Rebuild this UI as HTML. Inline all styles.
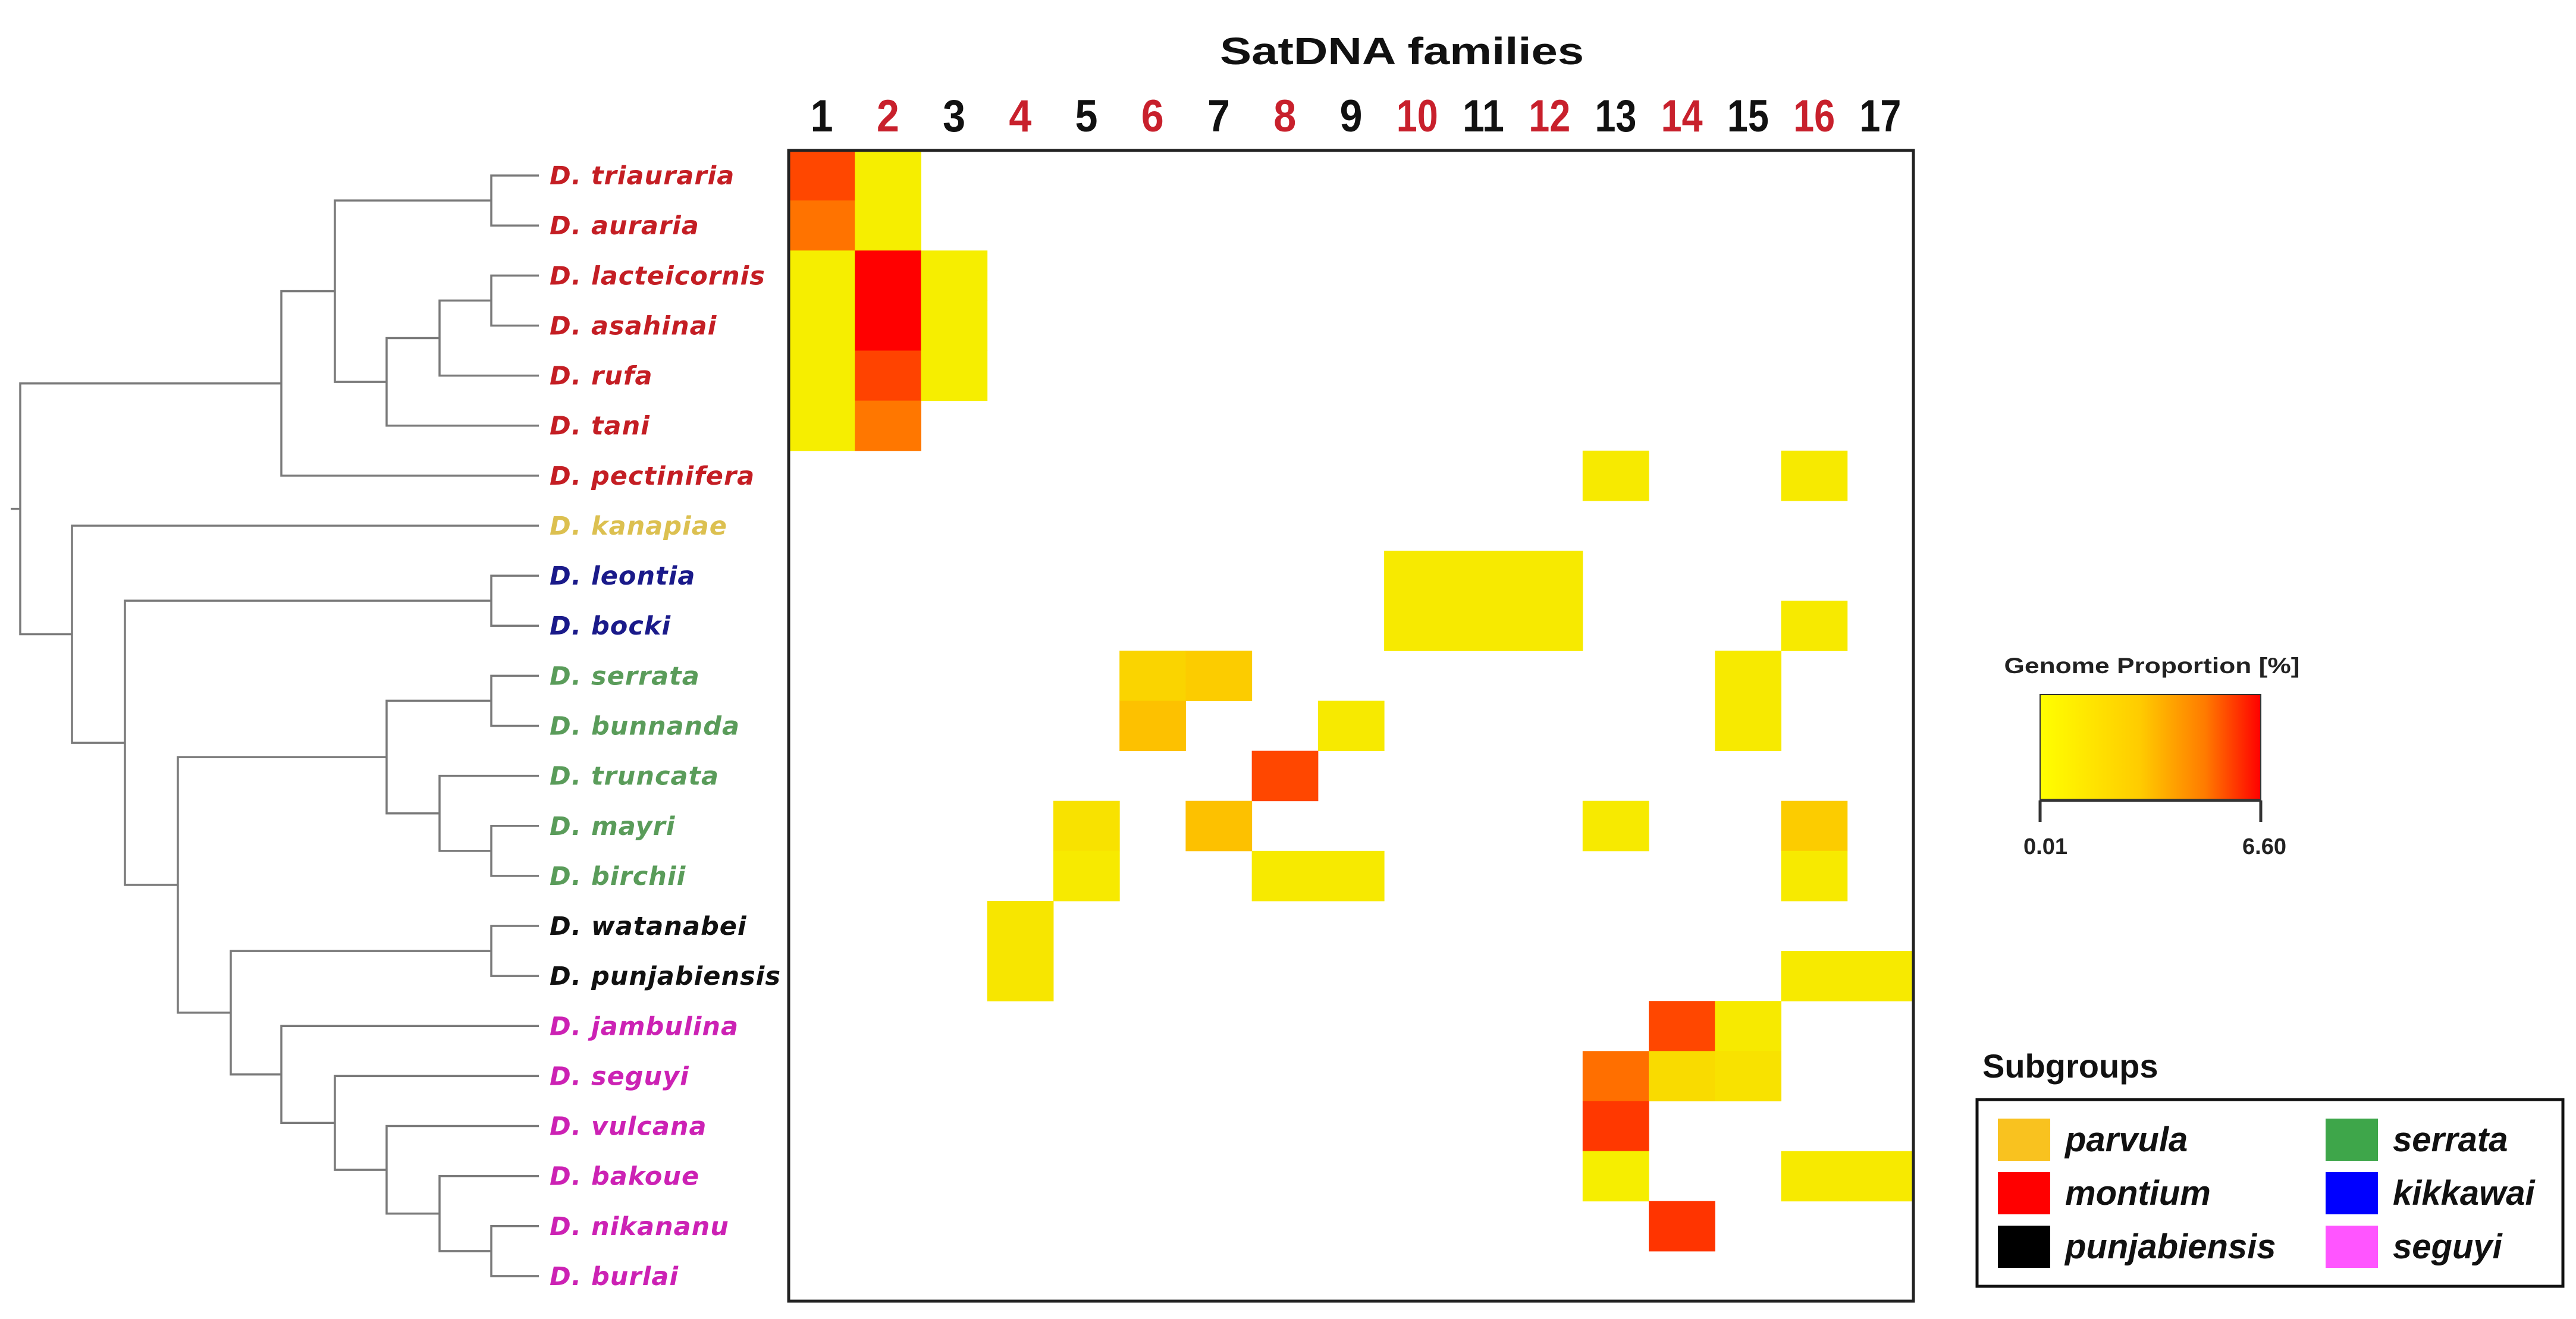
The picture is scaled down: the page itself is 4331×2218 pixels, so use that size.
<!DOCTYPE html>
<html><head><meta charset="utf-8"><style>
html,body{margin:0;padding:0;background:#fff}
svg{display:block}
text{font-family:"Liberation Sans",sans-serif;font-weight:bold}
</style></head><body>
<svg id="chart" width="4331" height="2218" viewBox="0 0 4331 2218" xmlns="http://www.w3.org/2000/svg">
<defs><linearGradient id="grad" x1="0" x2="1" y1="0" y2="0"><stop offset="0" stop-color="#ffff00"/><stop offset="0.45" stop-color="#ffcc00"/><stop offset="0.75" stop-color="#ff7a00"/><stop offset="1" stop-color="#ff0000"/></linearGradient></defs>
<text x="2357" y="108" font-size="64" text-anchor="middle" fill="#111" textLength="612" lengthAdjust="spacingAndGlyphs">SatDNA families</text>
<g id="colnums"></g>
<g id="tree" stroke="#7a7a7a" stroke-width="3.5" fill="none"></g>
<g id="leaves"></g>
<g id="cells"></g>
<rect x="1326" y="253" width="1891" height="1935" fill="none" stroke="#222" stroke-width="5"/>
<g>
<text x="3618" y="1132" font-size="37" text-anchor="middle" fill="#222" textLength="497" lengthAdjust="spacingAndGlyphs">Genome Proportion [%]</text>
<rect x="3430" y="1168" width="371" height="178" fill="url(#grad)" stroke="#333" stroke-width="2"/>
<path d="M3430 1346H3801M3430 1346V1382M3801 1346V1382" stroke="#333" stroke-width="5" fill="none"/>
<text x="3439" y="1436" font-size="38" text-anchor="middle" fill="#222">0.01</text>
<text x="3807" y="1436" font-size="38" text-anchor="middle" fill="#222">6.60</text>
</g>
<g>
<text x="3333" y="1812" font-size="56" fill="#111">Subgroups</text>
<rect x="3324" y="1849" width="985" height="314" fill="none" stroke="#111" stroke-width="5"/>
<g id="legend"></g>
</g>
</svg>
<script>
const families = ["1","2","3","4","5","6","7","8","9","10","11","12","13","14","15","16","17"];
const familyColors = ["#111","#c8202c","#111","#c8202c","#111","#c8202c","#111","#c8202c","#111","#c8202c","#111","#c8202c","#111","#c8202c","#111","#c8202c","#111"];
const species = ["D. triauraria","D. auraria","D. lacteicornis","D. asahinai","D. rufa","D. tani","D. pectinifera","D. kanapiae","D. leontia","D. bocki","D. serrata","D. bunnanda","D. truncata","D. mayri","D. birchii","D. watanabei","D. punjabiensis","D. jambulina","D. seguyi","D. vulcana","D. bakoue","D. nikananu","D. burlai"];
const speciesGroup = ["montium","montium","montium","montium","montium","montium","montium","parvula","kikkawai","kikkawai","serrata","serrata","serrata","serrata","serrata","punjabiensis","punjabiensis","seguyi","seguyi","seguyi","seguyi","seguyi","seguyi"];
// [row, col(1-based), genome proportion %]
const cellRows = [0,0,1,1,2,2,2,3,3,3,4,4,4,5,5,6,6,8,8,8,9,9,9,9,10,10,10,11,11,11,12,13,13,13,13,14,14,14,14,15,16,16,16,17,17,18,18,18,19,20,20,20,21];
const cellCols = [1,2,1,2,1,2,3,1,2,3,1,2,3,1,2,13,16,10,11,12,10,11,12,16,6,7,15,6,9,15,8,5,7,13,16,5,8,9,16,4,4,16,17,14,15,13,14,15,13,13,16,17,14];
const cellVals = [4.7,0.2,3.5,0.2,0.2,6.6,0.2,0.2,6.6,0.2,0.2,4.8,0.2,0.2,3.4,0.3,0.3,0.3,0.3,0.3,0.3,0.3,0.3,0.3,0.9,1.1,0.3,1.4,0.3,0.3,4.7,0.5,1.4,0.3,1.1,0.3,0.3,0.3,0.3,0.4,0.4,0.3,0.3,4.7,0.3,3.6,0.7,0.5,5.1,0.2,0.3,0.3,5.2];
const legendNames = ["parvula","montium","punjabiensis","serrata","kikkawai","seguyi"];
const legendSwatch = ["#f9c21f","#ff0000","#000000","#3ea64a","#0000ff","#ff55ff"];
const groupText = {montium:"#c41e24",parvula:"#dcc050",kikkawai:"#1a1a8a",serrata:"#5a9c5a",punjabiensis:"#111",seguyi:"#cc22b4"};
const NS="http://www.w3.org/2000/svg";
const X0=1326,Y0=253,CW=1891/17,RH=1935/23,VMAX=6.6;
const xCol=c=>X0+(c-1)*CW, yRow=r=>Y0+r*RH;
function color(v){const t=Math.min(1,v/VMAX);const r=Math.min(255,Math.round(245+40*t));const g=Math.max(0,Math.round(245*(1-t)));return `rgb(${r},${g},0)`;}
function mk(tag,attrs,parent){const e=document.createElementNS(NS,tag);for(const k in attrs)e.setAttribute(k,attrs[k]);parent.appendChild(e);return e;}
const colG=document.getElementById('colnums');
families.forEach((f,i)=>{const t=mk('text',{x:xCol(i+1)+CW/2,y:221,'font-size':76,'text-anchor':'middle',fill:familyColors[i]},colG);


t.setAttribute('textLength',f.length>1?70:38);t.setAttribute('lengthAdjust','spacingAndGlyphs');t.textContent=f;});
const cellG=document.getElementById('cells');
cellVals.forEach((v,i)=>{const r=mk('rect',{x:xCol(cellCols[i]),y:yRow(cellRows[i]),width:CW+0.5,height:RH+0.5,fill:color(v)},cellG);

});
const leafG=document.getElementById('leaves');
const leafY=i=>Y0+RH*i+RH/2;
species.forEach((s,i)=>{const t=mk('text',{x:924,y:leafY(i)+15,'font-size':43,'font-style':'italic','letter-spacing':1,style:'font-family:"DejaVu Sans",sans-serif',fill:groupText[speciesGroup[i]]},leafG);

t.textContent=s;});
// dendrogram
const tree=document.getElementById('tree');const TIP=906;
function node(a,b,x){const ya=a.y,yb=b.y;mk('path',{d:`M${a.x} ${ya}H${x}V${yb}H${b.x}`},tree);return {x:x,y:(ya+yb)/2};}
const L=i=>({x:TIP,y:leafY(i)});
const A=node(L(0),L(1),826),B=node(L(2),L(3),826),C=node(B,L(4),739),D=node(C,L(5),650),E=node(A,D,563),F=node(E,L(6),473);
const G=node(L(8),L(9),826),H=node(L(10),L(11),826),I=node(L(13),L(14),826),J=node(L(12),I,739),K=node(H,J,650);
const Lp=node(L(15),L(16),826);
const m1=node(L(21),L(22),826),m2=node(L(20),m1,739),m3=node(L(19),m2,650),m4=node(L(18),m3,563),m5=node(L(17),m4,473),m6=node(Lp,m5,388);
const N=node(K,m6,299),O=node(G,N,210),P=node(L(7),O,121),R=node(F,P,34);
mk('path',{d:`M18 ${R.y}H34`},tree);
// legend
const lg=document.getElementById('legend');
legendNames.forEach((n,i)=>{const col=Math.floor(i/3),row=i%3;const sx=col?3910:3359,y=1881+row*90;
const r=mk('rect',{x:sx,y:y,width:88,height:71,fill:legendSwatch[i]},lg);


const t=mk('text',{x:sx+113,y:y+55,'font-size':58,'font-style':'italic',fill:'#111'},lg);

t.textContent=n;});
</script>
</body></html>
